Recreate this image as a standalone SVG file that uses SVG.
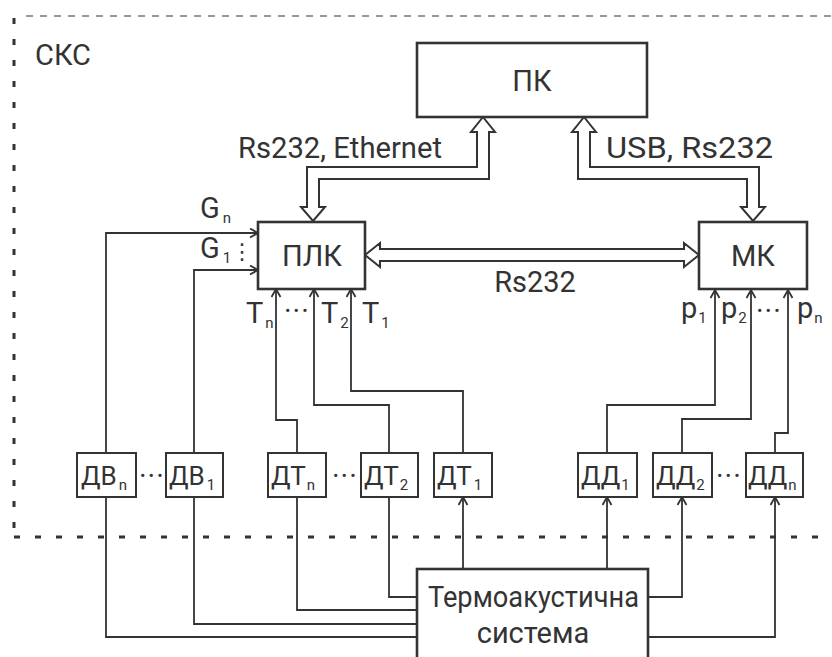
<svg xmlns="http://www.w3.org/2000/svg" width="832" height="657" viewBox="0 0 832 657">
<defs>
<marker id="ah" markerUnits="userSpaceOnUse" markerWidth="12" markerHeight="12" refX="9" refY="5" orient="auto">
<path d="M1,0.5 L9,5 L1,9.5" fill="none" stroke="#333" stroke-width="1.8"/>
</marker>
<style>
text{font-family:Roboto,"Liberation Sans",Arial,sans-serif;fill:#333}
.lbl{font-size:29px}
.sl{font-size:26px}
.sub{font-size:15px}
.box{fill:#fff;stroke:#333;stroke-width:2.6}
.sbox{fill:#fff;stroke:#333;stroke-width:2}
.wire{fill:none;stroke:#333;stroke-width:1.8}
.arr{marker-end:url(#ah)}
.hol{fill:#fff;stroke:#333;stroke-width:2;stroke-linejoin:miter}
</style>
</defs>
<rect width="832" height="657" fill="#fff"/>
<g id="boundary">
<line x1="26" y1="16" x2="832" y2="16" stroke="#777" stroke-width="1.3" stroke-dasharray="7 7"/>
<line x1="14" y1="18" x2="14" y2="535" stroke="#333" stroke-width="3" stroke-dasharray="6 15"/>
<line x1="14" y1="537" x2="832" y2="537" stroke="#333" stroke-width="3" stroke-dasharray="6 15"/>
<text class="lbl" x="35" y="65">СКС</text>
</g>
<g id="connectors">
<path class="hol" d="M313,221 L325,207 L319,207 L319,179 L489,179 L489,132 L495,132 L483,117 L471,132 L477,132 L477,167 L307,167 L307,207 L301,207 Z"/>
<path class="hol" d="M584,117 L596,132 L590,132 L590,167 L759,167 L759,207 L765,207 L753,221 L741,207 L747,207 L747,179 L578,179 L578,132 L572,132 Z"/>
<path class="hol" d="M365,255 L380,243 L380,249 L684,249 L684,243 L699,255 L684,267 L684,261 L380,261 L380,267 Z"/>
<path class="wire arr" d="M106,453 V233 H258"/>
<path class="wire arr" d="M194,453 V270 H258"/>
<path class="wire arr" d="M297,453 V420 H276 V289"/>
<path class="wire arr" d="M389,453 V405 H314 V289"/>
<path class="wire arr" d="M463,453 V391 H351 V289"/>
<path class="wire arr" d="M607,453 V405 H715 V290"/>
<path class="wire arr" d="M682,453 V419 H751 V290"/>
<path class="wire arr" d="M775,453 V433 H788 V290"/>
<path class="wire" d="M417,637 H106 V497"/>
<path class="wire" d="M417,624 H194 V497"/>
<path class="wire" d="M417,610 H297 V497"/>
<path class="wire" d="M417,597 H389 V497"/>
<path class="wire arr" d="M463,569 V497"/>
<path class="wire arr" d="M607,569 V497"/>
<path class="wire arr" d="M648,597 H682 V497"/>
<path class="wire arr" d="M648,637 H775 V497"/>
<text class="lbl" x="238" y="158" textLength="204" lengthAdjust="spacingAndGlyphs">Rs232, Ethernet</text>
<text class="lbl" x="606" y="158" textLength="167" lengthAdjust="spacingAndGlyphs">USB, Rs232</text>
<text class="lbl" x="535" y="292" text-anchor="middle">Rs232</text>
<text class="lbl" x="200" y="218">G<tspan class="sub" dx="3" dy="5">n</tspan></text>
<text class="lbl" x="200" y="258">G<tspan class="sub" dx="3" dy="5">1</tspan></text>
<text x="231" y="259" style="font-family:'DejaVu Sans',sans-serif;font-size:22px">⋮</text>
<text class="lbl" x="246" y="323">T<tspan class="sub" dx="2" dy="5">n</tspan></text>
<text class="lbl" x="284" y="321" letter-spacing="1">···</text>
<text class="lbl" x="321" y="323">T<tspan class="sub" dx="2" dy="5">2</tspan></text>
<text class="lbl" x="362" y="323">T<tspan class="sub" dx="2" dy="5">1</tspan></text>
<text class="lbl" x="681" y="318">p<tspan class="sub" dx="1" dy="5">1</tspan></text>
<text class="lbl" x="721" y="318">p<tspan class="sub" dx="1" dy="5">2</tspan></text>
<text class="lbl" x="756" y="321" letter-spacing="1">···</text>
<text class="lbl" x="797" y="318">p<tspan class="sub" dx="1" dy="5">n</tspan></text>
<text class="lbl" x="139" y="486" letter-spacing="1">···</text>
<text class="lbl" x="332" y="486" letter-spacing="1">···</text>
<text class="lbl" x="716" y="486" letter-spacing="1">···</text>
</g>
<g id="pk"><rect class="box" x="417" y="43" width="230" height="74"/><text class="lbl" x="532" y="91" text-anchor="middle">ПК</text></g>
<g id="plk"><rect class="box" x="258" y="222" width="107" height="67"/><text class="lbl" x="312" y="266" text-anchor="middle">ПЛК</text></g>
<g id="mk"><rect class="box" x="699" y="222" width="108" height="67"/><text class="lbl" x="753" y="266" text-anchor="middle">МК</text></g>
<g id="dvn"><rect class="sbox" x="77" y="453" width="59" height="44"/><text class="sl" x="81" y="485">ДВ<tspan class="sub" dx="2" dy="5">n</tspan></text></g>
<g id="dv1"><rect class="sbox" x="166" y="453" width="57" height="44"/><text class="sl" x="169" y="485">ДВ<tspan class="sub" dx="2" dy="5">1</tspan></text></g>
<g id="dtn"><rect class="sbox" x="268" y="453" width="58" height="44"/><text class="sl" x="271" y="485">ДТ<tspan class="sub" dx="1" dy="5">n</tspan></text></g>
<g id="dt2"><rect class="sbox" x="361" y="453" width="57" height="44"/><text class="sl" x="364" y="485">ДТ<tspan class="sub" dx="1" dy="5">2</tspan></text></g>
<g id="dt1"><rect class="sbox" x="434" y="453" width="58" height="44"/><text class="sl" x="437" y="485">ДТ<tspan class="sub" dx="2" dy="5">1</tspan></text></g>
<g id="dd1"><rect class="sbox" x="578" y="453" width="59" height="44"/><text class="sl" x="581" y="485">ДД<tspan class="sub" dx="1" dy="5">1</tspan></text></g>
<g id="dd2"><rect class="sbox" x="653" y="453" width="59" height="44"/><text class="sl" x="656" y="485">ДД<tspan class="sub" dx="1" dy="5">2</tspan></text></g>
<g id="ddn"><rect class="sbox" x="746" y="453" width="57" height="44"/><text class="sl" x="748" y="485">ДД<tspan class="sub" dx="1" dy="5">n</tspan></text></g>
<g id="system"><rect class="box" x="417" y="569" width="231" height="100"/><text class="lbl" x="428" y="607" textLength="211" lengthAdjust="spacingAndGlyphs">Термоакустична</text><text class="lbl" x="533" y="643" text-anchor="middle">система</text></g>
</svg>
